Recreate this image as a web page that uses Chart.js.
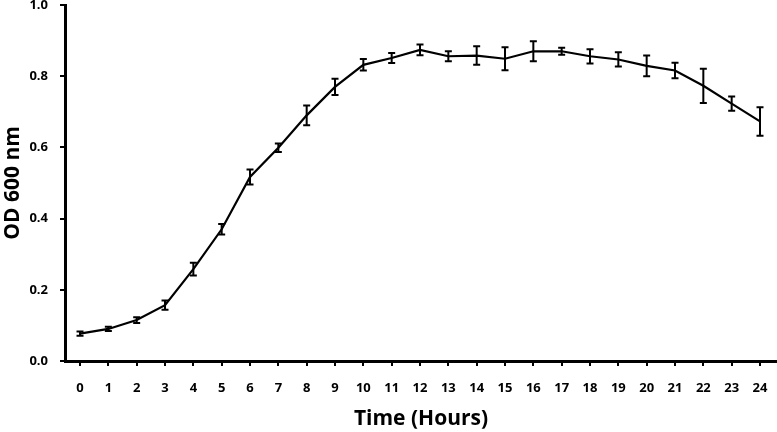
<!DOCTYPE html>
<html>
<head>
<meta charset="utf-8">
<script src="https://cdn.jsdelivr.net/npm/chart.js@4"></script>
<style>
  html, body { margin: 0; padding: 0; background: #fff; }
  #wrap { width: 777px; height: 432px; }
</style>
</head>
<body>
<div id="wrap"><canvas id="growthChart" width="777" height="432"></canvas></div>
<script>
const hours = [0, 1, 2, 3, 4, 5, 6, 7, 8, 9, 10, 11, 12, 13, 14, 15, 16, 17, 18, 19, 20, 21, 22, 23, 24];
const od600 = [0.077, 0.090, 0.115, 0.157, 0.258, 0.370, 0.517, 0.599, 0.690, 0.770, 0.832, 0.851, 0.874, 0.856, 0.858, 0.849, 0.870, 0.870, 0.856, 0.847, 0.829, 0.816, 0.773, 0.723, 0.673];
const odError = [0.006, 0.006, 0.008, 0.013, 0.018, 0.015, 0.021, 0.012, 0.028, 0.023, 0.016, 0.014, 0.015, 0.014, 0.026, 0.032, 0.028, 0.010, 0.020, 0.020, 0.029, 0.022, 0.048, 0.020, 0.040];
const yTicks = [0, 0.2, 0.4, 0.6, 0.8, 1.0];

const tickFont = { family: "'Open Sans'", size: 13, weight: 'bold' };
const titleFont = { family: "'Open Sans'", size: 21, weight: 'bold' };

const errorBars = {
    id: 'errorBars',
    afterDatasetsDraw(chart) {
        const ctx = chart.ctx;
        const xs = chart.scales.x, ys = chart.scales.y;
        ctx.save();
        ctx.strokeStyle = '#000';
        ctx.lineWidth = 2;
        hours.forEach((h, i) => {
            const x = xs.getPixelForValue(h);
            const top = ys.getPixelForValue(od600[i] + odError[i]);
            const bot = ys.getPixelForValue(od600[i] - odError[i]);
            ctx.beginPath();
            ctx.moveTo(x, top); ctx.lineTo(x, bot);
            ctx.moveTo(x - 3.5, top); ctx.lineTo(x + 3.5, top);
            ctx.moveTo(x - 3.5, bot); ctx.lineTo(x + 3.5, bot);
            ctx.stroke();
        });
        ctx.restore();
    }
};

new Chart(document.getElementById('growthChart').getContext('2d'), {
    type: 'line',
    data: {
        datasets: [{
            data: hours.map((h, i) => ({ x: h, y: od600[i] })),
            borderColor: '#000',
            borderWidth: 2.2,
            pointRadius: 0,
            tension: 0,
            fill: false
        }]
    },
    options: {
        responsive: false,
        animation: false,
        layout: { padding: { top: 5, right: 0, left: 0, bottom: 0 } },
        plugins: { legend: { display: false }, tooltip: { enabled: false } },
        scales: {
            x: {
                type: 'linear',
                min: -0.53,
                max: 24.6,
                afterBuildTicks: s => { s.ticks = hours.map(v => ({ value: v })); },
                afterFit: s => { s.height = 71; s.paddingLeft = 0; s.paddingRight = 0; },
                border: { color: '#000', width: 3 },
                grid: { drawOnChartArea: false, drawTicks: true, tickLength: 5, color: '#000', lineWidth: 2 },
                ticks: { color: '#000', font: tickFont, padding: 14, maxRotation: 0, autoSkip: false },
                title: { display: true, text: 'Time (Hours)', color: '#000', font: titleFont, padding: { top: 0, bottom: 0 } }
            },
            y: {
                min: 0,
                max: 1.0,
                afterBuildTicks: s => { s.ticks = yTicks.map(v => ({ value: v })); },
                afterFit: s => { s.width = 65; s.paddingTop = 0; s.paddingBottom = 0; },
                border: { color: '#000', width: 3 },
                grid: { drawOnChartArea: false, drawTicks: true, tickLength: 5, color: '#000', lineWidth: 2 },
                ticks: { color: '#000', font: tickFont, padding: 12, callback: v => v.toFixed(1) },
                title: { display: true, text: 'OD 600 nm', color: '#000', font: titleFont, padding: { top: 0, bottom: 0 } }
            }
        }
    },
    plugins: [errorBars]
});
</script>
</body>
</html>
